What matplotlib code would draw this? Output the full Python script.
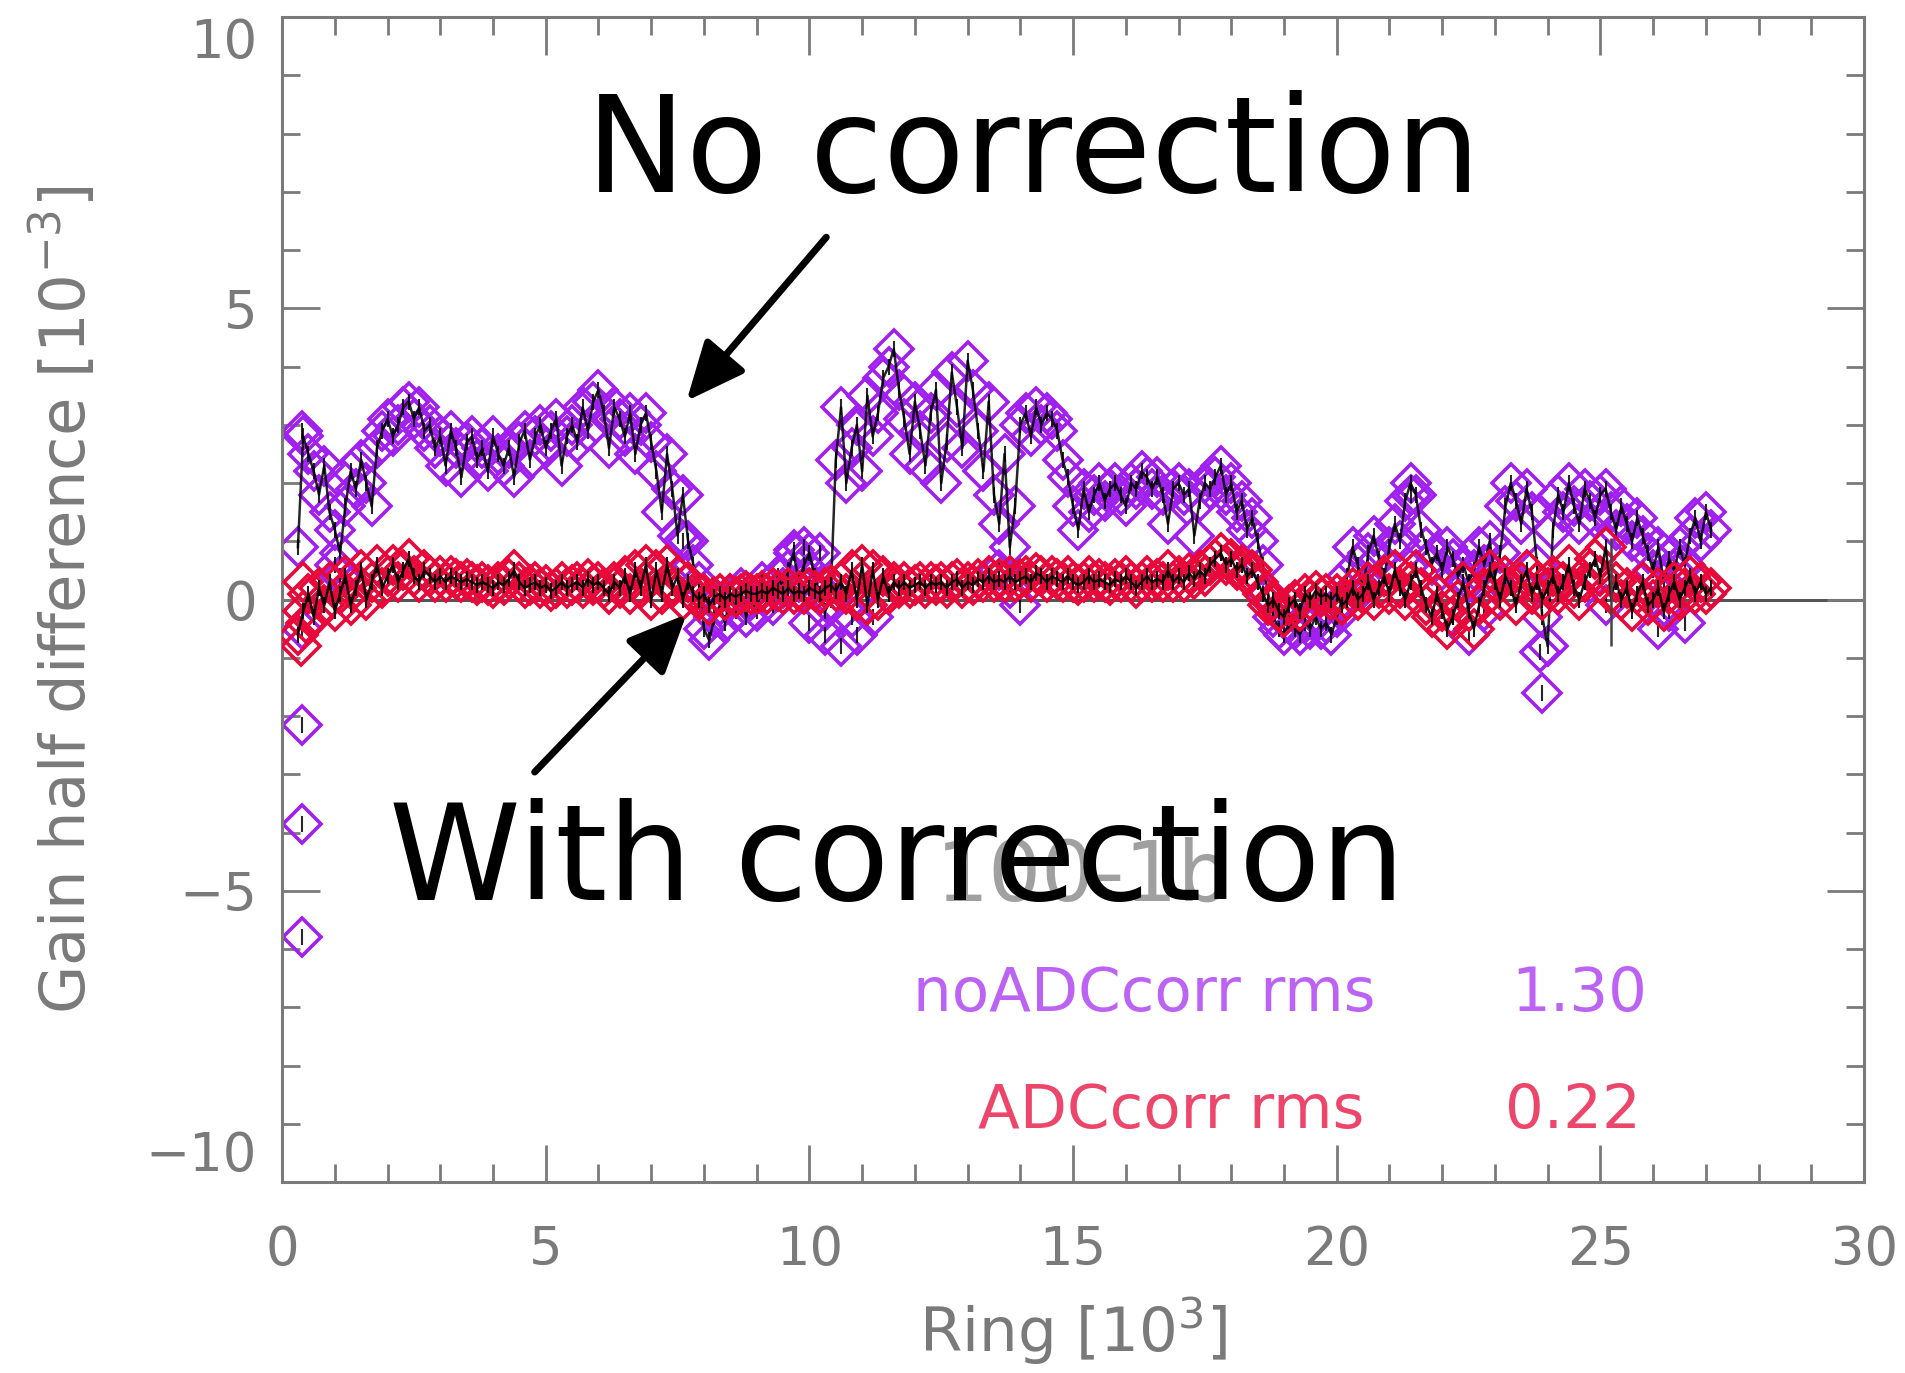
import numpy as np
import matplotlib
matplotlib.use("Agg")
import matplotlib.pyplot as plt
from matplotlib.ticker import MultipleLocator

plt.rcParams['font.family'] = ['DejaVu Sans']

# Ring sampling (thousands of rings), one value every 100 rings
ring_start = 0.3
ring_step = 0.1

# Gain half difference [1e-3], no ADC correction
gain_no_corr = [
    0.9, 2.8, 2.5, 2.2, 1.8, 2.3, 1.5, 1.2, 0.8, 1.6,
    2.2, 1.9, 2.4, 2.0, 1.6, 2.6, 2.9, 3.1, 2.8, 3.0,
    3.3, 3.4, 3.1, 3.3, 2.9, 3.0, 2.6, 2.8, 2.3, 2.9,
    2.6, 2.1, 2.7, 2.8, 2.4, 2.6, 2.2, 2.8, 2.5, 2.3,
    2.6, 2.1, 2.7, 2.9, 2.4, 2.8, 3.0, 2.6, 2.9, 3.1,
    2.3, 2.8, 3.0, 2.7, 3.3, 2.9, 3.4, 3.6, 3.2, 2.6,
    3.3, 3.1, 2.8, 3.2, 2.5, 3.0, 3.2, 2.7, 2.2, 1.5,
    2.5, 1.9, 1.1, 1.8, 1.0, 0.6, 0.3, -0.5, -0.7, -0.3,
    -0.1, -0.4, 0.1, -0.2, 0.2, -0.3, 0.0, -0.2, 0.3, 0.1,
    -0.1, 0.4, 0.2, 0.5, 0.8, 0.3, 0.6, 0.8, 0.4, 0.1,
    -0.2, 0.0, 2.4, 3.3, 2.0, 2.6, 3.0, 2.2, 3.5, 2.8,
    3.2, 3.8, 4.0, 4.3, 3.6, 3.1, 2.5, 3.4, 2.9, 2.3,
    3.2, 3.6, 2.0, 2.7, 3.9, 3.3, 2.6, 4.1, 3.6, 2.9,
    2.2, 3.4, 1.8, 1.3, 2.5, 0.9, 1.6, 3.0, 3.2, 2.8,
    3.3, 3.0, 3.2, 3.1, 2.9, 2.4, 2.1, 1.6, 1.2, 1.9,
    1.5, 1.8, 2.0, 1.7, 1.9, 2.0, 1.8, 1.6, 2.0, 1.9,
    2.2, 2.1, 1.9, 2.1, 1.8, 1.3, 1.9, 2.0, 1.8, 1.9,
    1.1, 1.7, 2.0, 1.9, 2.1, 2.3, 1.8, 2.0, 1.5, 1.7,
    1.2, 1.4, 1.0, 0.6, 0.1, -0.3, -0.5, -0.6, -0.4, -0.5,
    -0.6, -0.4, -0.5, -0.3, -0.5, -0.4, -0.6, -0.3, 0.0, 0.4,
    0.9, 0.6, 0.2, 0.8, 1.1, 0.7, 0.4, 0.9, 1.3, 1.0,
    1.7, 2.0, 1.8, 1.2, 0.9, 0.6, 0.8, 0.5, 0.9, 0.7,
    0.4, 0.6, 0.3, 0.5, 0.9, 0.6, 1.0, 0.4, 0.8, 1.6,
    2.0, 1.7, 1.3, 1.9, 1.5, 0.6, -0.3, -0.8, 1.2, 1.8,
    1.5, 2.0, 1.6, 1.3, 1.9, 1.7, 1.4, 1.8, 1.9, 1.5,
    1.2, 1.6, 1.3, 1.0, 1.4, 1.1, 0.8, 0.5, 0.9, 0.3,
    0.7, 0.5, 0.9, 0.6, 1.1, 1.4, 1.0, 1.5, 1.2,
]

# Additional uncorrected samples off the main track
extra_no_corr_ring = [0.37, 0.37, 0.37, 0.37, 0.37, 1.0, 1.1, 7.6, 7.7,
                      9.7, 9.9, 10.2, 10.0, 10.3, 10.6, 10.8, 10.9, 11.2,
                      13.6, 13.8, 14.0, 21.4, 22.2, 22.5, 22.8,
                      23.85, 23.9, 25.1, 26.1, 26.3, 26.6]
extra_no_corr_gain = [2.9, -0.5, -2.15, -3.85, -5.8, 0.6, 0.4, 1.0, 0.3,
                      0.85, 0.9, 0.8, -0.4, -0.6, -0.8, -0.3, -0.6, -0.3,
                      0.5, 0.2, -0.1, 1.8, -0.3, -0.6, -0.2,
                      -0.9, -1.6, -0.1, -0.5, -0.2, -0.4]

# Gain half difference [1e-3], with ADC correction
gain_corr = [
    -0.6, -0.2, 0.1, -0.3, 0.2, -0.1, 0.3, -0.2, 0.1, 0.4,
    -0.1, 0.2, 0.5, 0.0, 0.3, 0.6, 0.2, 0.4, 0.6, 0.3,
    0.5, 0.7, 0.4, 0.3, 0.5, 0.4, 0.3, 0.4, 0.3, 0.4,
    0.35, 0.3, 0.35, 0.3, 0.25, 0.3, 0.25, 0.2, 0.3, 0.25,
    0.35, 0.5, 0.3, 0.2, 0.25, 0.3, 0.2, 0.25, 0.15, 0.2,
    0.3, 0.2, 0.25, 0.3, 0.2, 0.35, 0.25, 0.3, 0.2, 0.1,
    0.3, 0.2, 0.4, 0.1, 0.5, 0.2, 0.6, 0.0, 0.5, 0.1,
    0.6, 0.2, 0.4, 0.0, 0.3, 0.1, 0.0, 0.1, -0.1, 0.05,
    0.1, 0.0, 0.1, 0.05, 0.1, 0.15, 0.1, 0.1, 0.15, 0.1,
    0.2, 0.15, 0.1, 0.2, 0.1, 0.15, 0.1, 0.2, 0.15, 0.1,
    0.2, 0.25, 0.15, 0.3, 0.1, 0.5, 0.0, 0.6, -0.1, 0.5,
    0.0, 0.4, 0.1, 0.3, 0.2, 0.3, 0.2, 0.25, 0.3, 0.2,
    0.3, 0.25, 0.3, 0.2, 0.3, 0.35, 0.2, 0.3, 0.25, 0.35,
    0.3, 0.4, 0.3, 0.35, 0.3, 0.4, 0.3, 0.35, 0.4, 0.3,
    0.45, 0.4, 0.3, 0.4, 0.35, 0.3, 0.4, 0.3, 0.25, 0.3,
    0.4, 0.3, 0.35, 0.3, 0.25, 0.35, 0.3, 0.4, 0.3, 0.2,
    0.3, 0.4, 0.3, 0.35, 0.3, 0.5, 0.3, 0.4, 0.3, 0.45,
    0.35, 0.5, 0.4, 0.6, 0.7, 0.8, 0.6, 0.7, 0.5, 0.6,
    0.4, 0.5, 0.3, 0.1, -0.1, 0.0, -0.2, -0.3, -0.1, 0.0,
    -0.2, 0.1, 0.0, 0.15, 0.05, 0.1, 0.0, 0.1, -0.1, 0.0,
    0.2, 0.0, 0.1, 0.3, 0.0, 0.2, 0.4, 0.1, 0.5, 0.2,
    0.0, 0.3, 0.5, 0.2, -0.1, -0.3, 0.1, -0.2, -0.5, -0.3,
    0.0, 0.3, -0.2, -0.5, -0.1, 0.2, 0.5, 0.3, 0.0, 0.4,
    0.2, -0.1, 0.3, 0.5, 0.1, 0.3, 0.0, 0.2, 0.4, 0.1,
    0.3, 0.6, 0.2, 0.0, 0.3, 0.5, 0.7, 0.4, 0.9, 0.1,
    0.3, 0.0, 0.2, -0.2, 0.1, 0.3, -0.1, 0.0, 0.2, -0.2,
    0.1, 0.3, 0.0, 0.2, 0.4, 0.1, 0.3, 0.1, 0.2,
]

extra_corr_ring = [0.35, 0.4, 0.45]
extra_corr_gain = [-0.8, 0.3, -0.4]

# Single long error bar near ring 25k
spike_ring = [25.2]
spike_low = [-0.8]
spike_high = [1.05]

rms_labels = ["noADCcorr rms", "ADCcorr rms"]
rms_values = [1.30, 0.22]

PURPLE = "#A020F0"
RED = "#E8083A"
GREY = "#7a7a7a"

rings_no = ring_start + ring_step * np.arange(len(gain_no_corr))
rings_co = ring_start + ring_step * np.arange(len(gain_corr))

fig = plt.figure(figsize=(19.06, 13.73), dpi=100)
ax = fig.add_axes([0.148, 0.139, 0.830, 0.8486])

ax.axhline(0, color="#555555", lw=2.2, zorder=1)

mk = dict(marker="D", ms=19, mfc="none", mew=2.6, ls="none")
ax.plot(rings_no, gain_no_corr, mec=PURPLE, zorder=2, **mk)
ax.plot(extra_no_corr_ring, extra_no_corr_gain, mec=PURPLE, zorder=2, **mk)
ax.plot(rings_no, gain_no_corr, color="black", lw=1.8, marker="|", ms=11,
        mew=1.5, alpha=0.85, zorder=2.5)
ax.plot(extra_no_corr_ring, extra_no_corr_gain, color="black", ls="none",
        marker="|", ms=11, mew=1.5, alpha=0.85, zorder=2.5)

ax.plot(rings_co, gain_corr, mec=RED, zorder=3, **mk)
ax.plot(extra_corr_ring, extra_corr_gain, mec=RED, zorder=3, **mk)
ax.plot(rings_co, gain_corr, color="black", lw=1.8, marker="|", ms=11,
        mew=1.5, alpha=0.9, zorder=3.5)
ax.vlines(spike_ring, spike_low, spike_high, color="#444444", lw=1.8, zorder=3.6)

ax.set_xlim(0, 30)
ax.set_ylim(-10, 10)
ax.xaxis.set_major_locator(MultipleLocator(5))
ax.xaxis.set_minor_locator(MultipleLocator(1))
ax.yaxis.set_minor_locator(MultipleLocator(1))
ax.tick_params(which="both", direction="in", top=True, right=True,
               color=GREY, width=2.0)
ax.tick_params(which="major", length=27, labelsize=38, labelcolor=GREY)
ax.tick_params(axis="x", which="major", pad=30)
ax.tick_params(axis="y", which="major", pad=18)
ax.tick_params(which="minor", length=13)
ax.set_yticks([-10, -5, 0, 5, 10])
ax.set_yticklabels(["\u221210", "\u22125", "0", "5", "10"])
ylabels = ax.get_yticklabels()
ylabels[0].set_va("bottom")
ylabels[-1].set_va("top")
for s in ax.spines.values():
    s.set_color(GREY)
    s.set_linewidth(2.2)

ax.set_xlabel(r"Ring [10$^3$]", fontsize=44, color=GREY, labelpad=14)
ax.set_ylabel(r"Gain half difference [10$^{-3}$]", fontsize=45, color=GREY, labelpad=34)

# Detector name, partly covered by the annotation
ax.text(12.4, -5.16, "100-1b", fontsize=60, color="#a0a0a0", zorder=4)

ax.text(11.97, -7.06, rms_labels[0], fontsize=44, color=PURPLE, alpha=0.7, zorder=4)
ax.text(23.31, -7.06, f"{rms_values[0]:.2f}", fontsize=44, color=PURPLE, alpha=0.7, zorder=4)
ax.text(13.19, -9.07, rms_labels[1], fontsize=44, color=RED, alpha=0.75, zorder=4)
ax.text(23.2, -9.07, f"{rms_values[1]:.2f}", fontsize=44, color=RED, alpha=0.75, zorder=4)

# Annotations
ax.text(5.76, 7.0, "No correction", fontsize=96, color="black", zorder=6)
ax.text(2.03, -5.16, "With correction", fontsize=96, color="black", zorder=6)
arrow = dict(arrowstyle="-|>,head_length=0.9,head_width=0.4", lw=5,
             color="black", mutation_scale=40, shrinkA=0, shrinkB=0)
ax.annotate("", xy=(7.67, 3.41), xytext=(10.32, 6.22), arrowprops=arrow, zorder=6)
ax.annotate("", xy=(7.67, -0.25), xytext=(4.79, -2.96), arrowprops=arrow, zorder=6)

fig.savefig("out.png", dpi=100, facecolor="white")
